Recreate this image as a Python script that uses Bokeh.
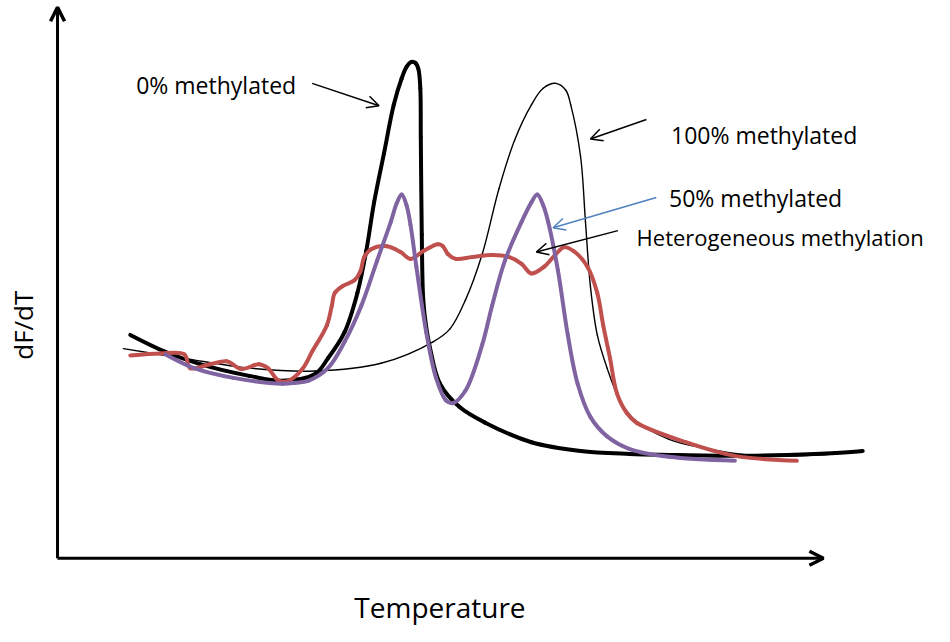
import math
from bokeh.plotting import figure
from bokeh.models import Range1d, Label, Arrow, OpenHead
from bokeh.embed import file_html
from bokeh.resources import INLINE

# ---- data (schematic melt curves: temperature vs dF/dT, arbitrary units) ----
t_0pct = [132, 167, 203, 253, 287, 320, 333, 350, 363, 372, 380, 390, 400, 408, 413,
          418, 422, 425, 427, 427.5, 428.5, 430, 433, 437, 447, 467, 493, 540, 590,
          640, 680, 747, 800, 850, 877]
d_0pct = [229, 212, 199, 187, 182, 189, 205, 232, 272, 315, 365, 415, 465, 492, 504,
          509, 508, 502, 482, 432, 332, 265, 237, 215, 179, 155, 139, 119, 110,
          107, 106, 105, 106, 108, 110]

t_100pct = [125, 187, 253, 320, 387, 440, 457, 473, 490, 507, 523, 540, 552, 565, 575,
            580, 590, 595, 600, 607, 617, 630, 645, 680, 720, 760, 810, 860]
d_100pct = [215, 205, 195, 192, 200, 222, 235, 265, 312, 379, 429, 465, 482, 487, 480,
            465, 412, 345, 279, 229, 195, 162, 142, 122, 112, 106, 105, 108]

t_50pct = [168, 197, 237, 287, 300, 313, 333, 350, 367, 383, 397, 403, 408, 413, 417,
           423, 433, 443, 453, 460, 473, 490, 500, 513, 530, 540, 546, 552, 557, 567,
           577, 587, 600, 617, 640, 680, 747]
d_50pct = [209, 195, 185, 179, 180, 182, 195, 222, 259, 305, 345, 364, 373, 362, 342,
           299, 232, 185, 162, 159, 172, 219, 259, 305, 345, 365, 373, 362, 345, 295,
           229, 179, 145, 125, 112, 104, 100]

t_het = [132, 163, 187, 193, 213, 230, 245, 263, 272, 283, 293, 307, 317, 332, 337, 340,
         348, 360, 366, 370, 377, 393, 407, 417, 430, 445, 450, 455, 463, 480, 500, 517,
         530, 540, 553, 565, 573, 583, 597, 607, 613, 620, 627, 637, 647, 697, 747, 810]
d_het = [208, 210, 209, 195, 199, 202, 194, 199, 195, 182, 182, 194, 212, 239, 259, 272,
         279, 285, 294, 309, 317, 320, 314, 307, 315, 322, 320, 312, 307, 309, 311, 309,
         302, 292, 299, 312, 319, 315, 299, 272, 239, 205, 169, 149, 139, 119, 105, 100]

labels = ["0% methylated", "100% methylated", "50% methylated", "Heterogeneous methylation"]
x_title = "Temperature"
y_title = "dF/dT"

FONT = "Open Sans"

p = figure(width=934, height=626, output_backend="svg", toolbar_location=None,
           x_range=Range1d(0, 950), y_range=Range1d(-70, 572),
           x_axis_type=None, y_axis_type=None, min_border=0)
p.outline_line_color = None
p.grid.visible = False
p.background_fill_color = "white"


def smooth_segments(xs, ys, alpha=0.5):
    """Centripetal Catmull-Rom through the data points, as cubic Bezier segments."""
    pts = list(zip(xs, ys))
    pts = [pts[0]] + pts + [pts[-1]]
    out = {k: [] for k in ("x0", "y0", "x1", "y1", "cx0", "cy0", "cx1", "cy1")}
    for i in range(1, len(pts) - 2):
        p0, p1, p2, p3 = pts[i - 1], pts[i], pts[i + 1], pts[i + 2]

        def dist(a, b):
            return max(math.hypot(b[0] - a[0], b[1] - a[1]) ** alpha, 1e-6)
        d1, d2, d3 = dist(p0, p1), dist(p1, p2), dist(p2, p3)
        c1 = [(d1 * d1 * p2[k] - d2 * d2 * p0[k] + (2 * d1 * d1 + 3 * d1 * d2 + d2 * d2) * p1[k])
              / (3 * d1 * (d1 + d2)) for k in (0, 1)]
        c2 = [(d3 * d3 * p1[k] - d2 * d2 * p3[k] + (2 * d3 * d3 + 3 * d3 * d2 + d2 * d2) * p2[k])
              / (3 * d3 * (d3 + d2)) for k in (0, 1)]
        out["x0"].append(p1[0]); out["y0"].append(p1[1])
        out["x1"].append(p2[0]); out["y1"].append(p2[1])
        out["cx0"].append(c1[0]); out["cy0"].append(c1[1])
        out["cx1"].append(c2[0]); out["cy1"].append(c2[1])
    return out


def curve(xs, ys, color, width):
    s = smooth_segments(xs, ys)
    p.bezier(x0=s["x0"], y0=s["y0"], x1=s["x1"], y1=s["y1"],
             cx0=s["cx0"], cy0=s["cy0"], cx1=s["cx1"], cy1=s["cy1"],
             line_color=color, line_width=width, line_cap="round")


curve(t_100pct, d_100pct, "black", 1.4)
curve(t_0pct, d_0pct, "black", 4)
curve(t_het, d_het, "#C0504D", 4)
curve(t_50pct, d_50pct, "#8064A2", 4)

# axes as arrows
p.add_layout(Arrow(end=OpenHead(size=14, line_width=3.5, line_color="black"),
                   x_start=58, y_start=0, x_end=58, y_end=565,
                   line_width=3, line_color="black"))
p.add_layout(Arrow(end=OpenHead(size=14, line_width=3.5, line_color="black"),
                   x_start=58, y_start=0, x_end=837, y_end=0,
                   line_width=3, line_color="black"))

p.add_layout(Label(x=447, y=-50, text=x_title, text_font=FONT, text_font_size="28px",
                   text_align="center", text_baseline="middle", text_color="black"))
p.add_layout(Label(x=23, y=239, text=y_title, text_font=FONT, text_font_size="26px",
                   angle=math.pi / 2, text_align="center", text_baseline="middle",
                   text_color="black"))

# annotations
label_pos = [(138, 485), (682, 434), (680, 369), (647, 329)]
label_size = ["23px", "23px", "23px", "22px"]
for txt, (lx, ly), fs in zip(labels, label_pos, label_size):
    p.add_layout(Label(x=lx, y=ly, text=txt, text_font=FONT, text_font_size=fs,
                       text_align="left", text_baseline="middle", text_color="black"))

arrows = [((317, 487), (385, 464), "black"),
          ((657, 450), (600, 430), "black"),
          ((667, 370), (562, 339), "#4F81BD"),
          ((628, 336), (545, 314), "black")]
for (xs, ys), (xe, ye), c in arrows:
    p.add_layout(Arrow(end=OpenHead(size=12, line_width=1.5, line_color=c),
                       x_start=xs, y_start=ys, x_end=xe, y_end=ye,
                       line_width=1.5, line_color=c))

open("out.html", "w").write(file_html(p, INLINE))
